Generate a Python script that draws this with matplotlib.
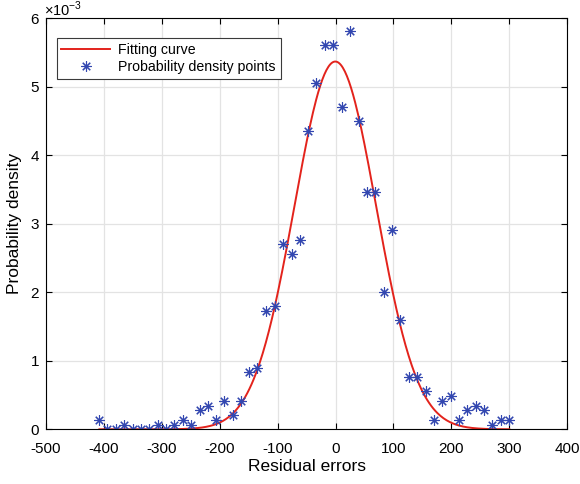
import matplotlib
matplotlib.use('Agg')
import matplotlib.pyplot as plt
import numpy as np

# histogram bin centres of the residuals and their probability densities
bin_centres = [-408, -394, -379, -365, -350, -336, -322, -307, -293, -279,
               -264, -250, -235, -221, -207, -192, -178, -163, -149, -135,
               -120, -105, -90, -76, -61, -47, -33, -18, -4, 11,
               25, 40, 54, 68, 83, 98, 112, 127, 141, 156,
               170, 184, 199, 213, 227, 242, 256, 271, 285, 300]
density = [0.138, 0.0, 0.0, 0.069, 0.0, 0.0, 0.0, 0.069, 0.0, 0.069,
           0.138, 0.069, 0.277, 0.346, 0.138, 0.415, 0.208, 0.415, 0.830, 0.900,
           1.730, 1.799, 2.699, 2.561, 2.768, 4.360, 5.052, 5.606, 5.606, 4.706,
           5.813, 4.498, 3.460, 3.460, 2.007, 2.907, 1.592, 0.761, 0.761, 0.554,
           0.138, 0.415, 0.484, 0.138, 0.277, 0.346, 0.277, 0.069, 0.138, 0.138]
density = np.array(density) * 1e-3

# fitted gaussian a*exp(-(x-mu)^2 / (2 sigma^2))
fit_amp = 5.37e-3
fit_mu = -0.5
fit_sigma = 70.6

plt.rcParams['font.family'] = ['Liberation Sans', 'DejaVu Sans']
plt.rcParams['axes.unicode_minus'] = False
plt.rcParams['mathtext.fontset'] = 'custom'
plt.rcParams['mathtext.rm'] = 'Liberation Sans'

fig = plt.figure(figsize=(5.8, 4.84), dpi=100)
ax = fig.add_axes([0.0795, 0.113, 0.8984, 0.849])

# fitting curve over the range of the data
xs = np.linspace(min(bin_centres), max(bin_centres), 400)
ys = fit_amp * np.exp(-(xs - fit_mu) ** 2 / (2 * fit_sigma ** 2))
ax.plot(xs, ys, color='#e3231c', lw=1.4, label='Fitting curve')

# MATLAB style asterisk markers
ax.plot(bin_centres, density, ls='none', marker=(8, 2, 0), ms=7.5,
        mec='#3347b0', mew=0.8, label='Probability density points')

ax.set_xlim(-500, 400)
ax.set_ylim(0, 6e-3)
ax.set_xticks(np.arange(-500, 401, 100))
ax.set_yticks(np.arange(0, 6.1e-3, 1e-3))
ax.set_yticklabels([str(i) for i in range(7)])
# exponent label in the top-left corner, as MATLAB draws it
ax.text(-0.005, 0.999, r'$\times$10$^{\mathregular{-3}}$', transform=ax.transAxes,
        fontsize=10.5, va='bottom', ha='left')

ax.grid(True, color='#e3e3e3', lw=0.9)
ax.set_axisbelow(True)
ax.tick_params(direction='in', top=True, right=True, labelsize=11,
               length=4, width=0.8)
ax.tick_params(axis='x', pad=9)
ax.tick_params(axis='y', pad=5)
for s in ax.spines.values():
    s.set_linewidth(0.8)
    s.set_color('black')

ax.set_xlabel('Residual errors', fontsize=12.5, labelpad=2)
ax.set_ylabel('Probability density', fontsize=12.5, labelpad=6)

leg = ax.legend(loc='upper left', bbox_to_anchor=(0.02, 0.953), fontsize=10.2,
                frameon=True, fancybox=False, framealpha=1, borderpad=0.35,
                handlelength=3.4, handletextpad=0.6, labelspacing=0.25,
                borderaxespad=0)
leg.get_frame().set_edgecolor('#3a3a3a')
leg.get_frame().set_linewidth(0.8)

fig.savefig('out.png', dpi=100)
